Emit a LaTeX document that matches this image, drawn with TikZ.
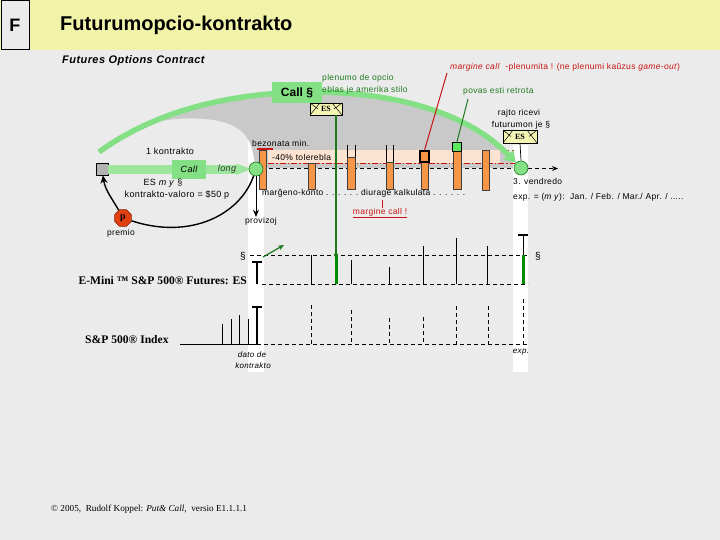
\documentclass[tikz,border=0pt]{standalone}
\usepackage{fontspec}
\setmainfont{Liberation Serif}
\newfontfamily\lsans[LetterSpace=4]{Liberation Sans}
\newfontfamily\hsans{Liberation Sans}
\usetikzlibrary{arrows.meta,shapes.geometric}
\definecolor{bg}{HTML}{EBEBEB}
\definecolor{ttl}{HTML}{F1F4A8}
\definecolor{domeg}{HTML}{C9C9C9}
\definecolor{pinkb}{HTML}{FDE3D2}
\definecolor{lgreen}{HTML}{84E084}
\definecolor{dgreen}{HTML}{1F7A1F}
\definecolor{mred}{HTML}{C81414}
\definecolor{orng}{HTML}{F79646}
\definecolor{envy}{HTML}{F4F5B4}
\definecolor{octred}{HTML}{E0400F}
\tikzset{
  lbl/.style={font=\lsans\fontsize{8.5}{10}\selectfont, inner sep=0pt},
  serb/.style={font=\bfseries\fontsize{11.6}{13}\selectfont, inner sep=0pt},
  envelope/.style={draw=black, fill=envy, line width=0.6pt, minimum width=32pt,
    minimum height=12pt, inner sep=0pt, font=\bfseries\fontsize{8}{9}\selectfont,
    path picture={
      \draw[line width=0.5pt] (path picture bounding box.south west) -- ([xshift=10pt]path picture bounding box.north west);
      \draw[line width=0.5pt] (path picture bounding box.north west) -- ([xshift=8pt]path picture bounding box.west);
      \draw[line width=0.5pt] (path picture bounding box.south east) -- ([xshift=-10pt]path picture bounding box.north east);
      \draw[line width=0.5pt] (path picture bounding box.north east) -- ([xshift=-8pt]path picture bounding box.east);
    }},
  dsh/.style={dash pattern=on 4pt off 3pt, line width=0.7pt},
  vline/.style={line width=0.8pt},
  barst/.style={draw=black!75, fill=orng, line width=0.6pt},
  gcirc/.style={circle, fill=lgreen, draw=dgreen, line width=0.6pt, minimum size=14pt, inner sep=0pt},
}
\begin{document}
\begin{tikzpicture}[x=1pt,y=-1pt]
\useasboundingbox (0,0) rectangle (720,540);
\fill[bg] (0,0) rectangle (720,540);
\fill[ttl] (0,0) rectangle (720,50);
\node[draw=black, fill=bg, line width=0.8pt, minimum width=28pt, minimum height=49pt, inner sep=0pt,
  anchor=north west, font=\hsans\bfseries\fontsize{18}{20}\selectfont] (fbox) at (0.5,0.5) {F};
\node[anchor=west, inner sep=0pt, font=\hsans\bfseries\fontsize{20}{24}\selectfont] (title) at (60,25) {Futurumopcio-kontrakto};
\node[anchor=west, inner sep=0pt, font=\lsans\bfseries\itshape\fontsize{11}{13}\selectfont] (sub) at (62,61) {Futures Options Contract};

% white strips
\fill[white] (248,135) rectangle (264,372);
% dome
\fill[domeg] (132.4,130.6) .. controls (178.8,107.04) and (238,92.8) .. (310,92)
  .. controls (400,92) and (470,115) .. (515,162) -- (515,168) -- (255,168)
  .. controls (253,135) and (240,122) .. (205,119) .. controls (180,117) and (160,120) .. (140,127) -- cycle;
\fill[white] (513,145) rectangle (528,372);
\fill[pinkb] (268,150) rectangle (500,163);

% levels
\draw[mred, line width=0.8pt, dash pattern=on 6pt off 2pt on 1.5pt off 2pt] (268,163) -- (515,163);
\draw[mred, line width=0.8pt, dash pattern=on 3pt off 3pt] (500,150) -- (514,150);
\draw[mred, line width=1.5pt] (257,149) -- (273,149);
\coordinate (c1pos) at (256,169);
\coordinate (c2pos) at (521,168);
\coordinate (dashend) at (558,168.5);
\draw[dsh, -{Stealth[length=6pt,width=5pt]}] (262,168.5) -- (dashend);

% bars
\draw[barst] (259,150) rectangle (266,189);
\draw[barst] (308,163) rectangle (315,189);
\draw[barst] (347,157) rectangle (355,189);
\draw[vline] (347,145) -- (347,157) (355,145) -- (355,157);
\draw[barst] (386,162) rectangle (393,189);
\draw[vline] (386,145) -- (386,162) (393,145) -- (393,162);
\draw[barst] (421,152) rectangle (428,189);
\node[draw=black, line width=1.6pt, fill=orng, minimum width=9pt, minimum height=11pt, inner sep=0pt] (mcbox) at (424.5,156.5) {};
\draw[barst] (453,151) rectangle (461,189);
\node[draw=black, line width=1.6pt, fill=lgreen!70!green, minimum width=9pt, minimum height=9pt, inner sep=0pt] (rtbox) at (457,147) {};
\draw[barst] (482,150) rectangle (489,190);

% green arc
\node[gcirc] (c2) at (c2pos) {};
\coordinate (arcs) at (99,152);
\draw[lgreen, line width=5.5pt, -{Triangle[length=11pt,width=13pt]}] (arcs) .. controls (150,115) and (220,93) .. (310,92)
  .. controls (400,92) and (470,115) .. (c2);

% top labels
\node[fill=lgreen, minimum width=50pt, minimum height=21pt, inner sep=0pt,
  font=\hsans\bfseries\fontsize{12}{14}\selectfont] (callsec) at (297,92.5) {Call §};
\node[envelope] (es1) at (326,109) {ES};
\node[lbl, anchor=west, text=dgreen] (plen1) at (322,78.5) {plenumo de opcio};
\node[lbl, anchor=west, text=dgreen] (plen2) at (322,90.5) {eblas je amerika stilo};
\node[lbl, anchor=west, text=mred] (mctext) at (450,67) {\itshape margine call\/\upshape\ \ -plenumita ! (ne plenumi kaŭzus \itshape game-out\/\upshape)};
\node[lbl, anchor=west, text=dgreen] (povas) at (463,91) {povas esti retrota};
\coordinate (mcl) at (447,73);
\coordinate (rtl) at (468,99);
\draw[mred, line width=1pt] (mcl) -- (mcbox.north);
\draw[dgreen, line width=1pt] (rtl) -- (rtbox.north);
\node[lbl] (rajto1) at (519,113) {rajto ricevi};
\node[lbl] (rajto2) at (521,125) {futurumon je §};
\node[envelope, minimum width=34pt, minimum height=13pt] (es2) at (520,136.5) {ES};
\draw[line width=0.7pt] (es2.south) -- (c2.north);

% left part
\node[draw=black, fill=black!30, minimum size=12pt, inner sep=0pt, line width=0.6pt] (sq) at (102,169) {};
\fill[lgreen!80!white] (108,165) rectangle (236,174);
\fill[lgreen!80!white] (236,163.5) -- (251,169) -- (236,175) -- cycle;
\node[fill=lgreen, minimum width=34pt, minimum height=19pt, inner sep=0pt,
  font=\lsans\itshape\fontsize{9}{10}\selectfont] (callbox) at (189,169.5) {Call};
\node[lbl, font=\lsans\itshape\fontsize{9}{10}\selectfont, text=black!80] (long) at (227,169) {long};
\node[gcirc] (c1) at (c1pos) {};
\node[lbl, font=\lsans\fontsize{9}{10}\selectfont] (kontr) at (170,151) {1 kontrakto};
\node[lbl, font=\lsans\fontsize{9}{10}\selectfont] (esmy) at (163,183) {ES \textit{m y} §};
\node[lbl, font=\lsans\fontsize{9}{10}\selectfont] (valoro) at (177,195.5) {kontrakto-valoro = \$50 p};
\node[regular polygon, regular polygon sides=8, minimum size=18pt, inner sep=0pt, fill=octred,
  draw=octred!60!black, line width=0.6pt, font=\bfseries\fontsize{10}{11}\selectfont] (prem) at (123,218) {p};
\node[lbl] (premio) at (121,233) {premio};
\draw[line width=1.4pt] (c1) .. controls (240,215) and (190,240) .. (prem);
\draw[line width=1.4pt, -{Stealth[length=8pt,width=7pt]}] (prem) .. controls (113,200) and (105,190) .. (sq);
\node[lbl] (prov) at (261,221) {provizoj};
\draw[line width=0.8pt, -{Stealth[length=7pt,width=6pt]}] (c1) -- (c1 |- prov.north);

% margin texts
\node[lbl, anchor=west] (bez) at (252,143) {bezonata min.};
\node[lbl, anchor=west] (tol) at (272,157) {-40\% tolerebla};
\node[lbl, anchor=west] (marg) at (262,193) {marĝeno-konto . . . . . .\ diurage kalkulata . . . . . .};
\node[lbl, text=mred] (mc2) at (380,213) {\underline{margine call !}};
\coordinate (mctick) at (382,200);
\draw[mred, line width=0.7pt] (mctick) -- (mctick |- mc2.north);
\node[lbl, anchor=west] (vendr) at (513,181) {3. vendredo};
\node[lbl, anchor=west] (expm) at (513,197) {exp. = (\textit{m y}):\ \ Jan. / Feb. / Mar./ Apr. / .....};

% ES futures chart
\draw[dsh] (250,255) -- (528,255);
\draw[dsh] (262,284) -- (528,284);
\node[lbl, font=\lsans\fontsize{10}{11}\selectfont] (secL) at (243,256) {§};
\node[lbl, font=\lsans\fontsize{10}{11}\selectfont] (secR) at (538,256) {§};
\node[serb, anchor=east] (esl) at (247,281) {E-Mini ™ S\&P 500® Futures: ES};
\draw[line width=1.8pt] (257,284) -- (257,262);
\draw[line width=1.2pt] (252,262) -- (262,262);
\coordinate (ga1) at (263,257);
\coordinate (ga2) at (284,245);
\draw[dgreen, line width=1.2pt, -{Stealth[length=6pt,width=5pt]}] (ga1) -- (ga2);
\draw[vline] (311,255) -- (311,284);
\draw[vline] (351,260) -- (351,284);
\draw[vline] (389,267) -- (389,284);
\draw[vline] (423,246) -- (423,284);
\draw[vline] (456,238) -- (456,284);
\draw[vline] (487,246) -- (487,284);
\draw[vline] (523,235) -- (523,255);
\draw[line width=1.2pt] (518,235) -- (528,235);
\draw[green!55!black, line width=3pt] (523,255) -- (523,284);
\coordinate (g1a) at (336,255);
\coordinate (g1b) at (336,284);
\draw[dgreen, line width=1.6pt] (es1.south -| g1a) -- (g1a);
\draw[green!55!black, line width=3pt] (g1a) -- (g1b);
\fill[dgreen] (g1a) circle (2);

% index chart
\draw[line width=0.8pt] (180,344) -- (257,344);
\draw[dsh] (257,344) -- (528,344);
\node[serb, anchor=west] (idx) at (85,340) {S\&P 500® Index};
\draw[vline] (222,324) -- (222,344);
\draw[vline] (231,319) -- (231,344);
\draw[vline] (239,315) -- (239,344);
\draw[vline] (248,319) -- (248,344);
\draw[line width=1.8pt] (257,307) -- (257,344);
\draw[line width=1.2pt] (252,307) -- (262,307);
\draw[dsh] (311,305) -- (311,344);
\draw[dsh] (351,310) -- (351,344);
\draw[dsh] (389,318) -- (389,344);
\draw[dsh] (423,317) -- (423,344);
\draw[dsh] (456,306) -- (456,344);
\draw[dsh] (488,306) -- (488,344);
\draw[dsh] (523,299) -- (523,344);
\node[lbl, font=\lsans\itshape\fontsize{8}{9}\selectfont] (dato1) at (252,355) {dato de};
\node[lbl, font=\lsans\itshape\fontsize{8}{9}\selectfont] (dato2) at (253,366) {kontrakto};
\node[lbl, font=\lsans\itshape\fontsize{8}{9}\selectfont] (expl) at (521,352) {exp.};

% footer
\node[anchor=west, inner sep=0pt, font=\fontsize{9.2}{11}\selectfont] (copy) at (51,509) {©\ 2005,\ \ Rudolf Koppel: \textit{Put\& Call,}\ \ versio E1.1.1.1};
\end{tikzpicture}
\end{document}
